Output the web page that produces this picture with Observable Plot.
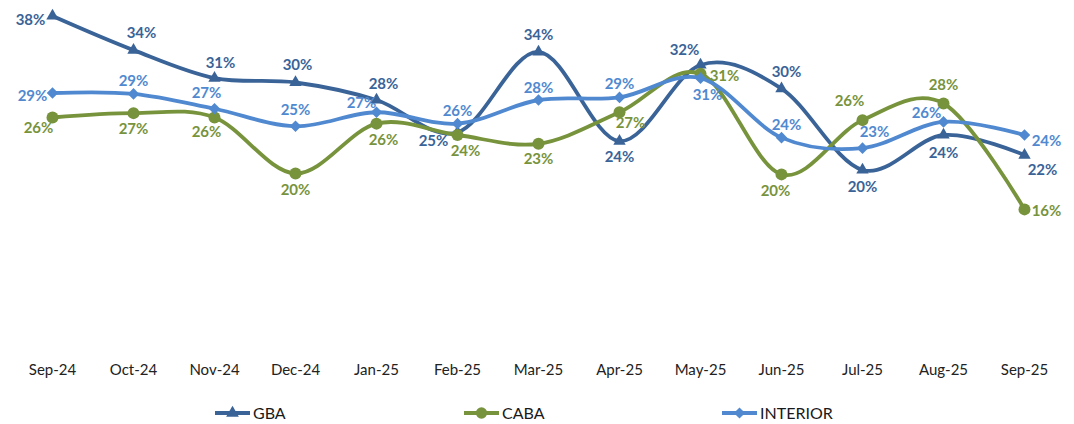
<!DOCTYPE html>
<html><head><meta charset="utf-8">
<script src="https://cdn.jsdelivr.net/npm/d3@7"></script>
<script src="https://cdn.jsdelivr.net/npm/@observablehq/plot@0.6"></script>
<style>
body{margin:0;background:#fff;font-family:Lato,"Open Sans",sans-serif;}
#wrap{position:relative;width:1074px;height:424px;}
#legend{position:absolute;left:0;top:399px;width:1074px;height:26px;}
.li{position:absolute;top:0;display:flex;align-items:center;font-size:16px;color:#1a1a1a;}
.li svg{display:block;margin-right:2px;}
</style></head>
<body><div id="wrap"><div id="chart"></div><div id="legend"></div></div>
<script>
const months = ["Sep-24","Oct-24","Nov-24","Dec-24","Jan-25","Feb-25","Mar-25","Apr-25","May-25","Jun-25","Jul-25","Aug-25","Sep-25"];
const gba      = [38.0,34.1,30.9,30.4,28.4,24.7,33.9,23.7,32.4,29.7,20.4,24.4,22.1];
const caba     = [26.4,26.9,26.4,20.0,25.7,24.4,23.4,27.0,31.4,19.9,26.1,28.0,15.9];
const interior = [29.2,29.1,27.4,25.4,27.0,25.7,28.4,28.7,30.9,24.1,22.9,25.9,24.4];
const seriesNames = ["GBA","CABA","INTERIOR"];

// label placement offsets (dx, dy) in pixels, per point
const gbaLabelOffsets = [[-22,4],[8,-17],[6,-15],[2,-17],[7,-16],[-24,9],[0,-17],[0,16],[-16,-15],[5,-16],[0,17],[0,18],[18,15]];
const cabaLabelOffsets = [[-14,11],[0,16],[-8,15],[0,17],[7,17],[8,16],[0,15],[11,11],[24,2],[-6,17],[-13,-19],[0,-18],[22,2]];
const interiorLabelOffsets = [[-20,3],[0,-13],[-8,-16],[0,-16],[-15,-9],[0,-12],[0,-12],[0,-13],[7,17],[5,-12],[12,-16],[-17,-9],[22,6]];

const colors = {GBA:"#3A6398", CABA:"#77933C", INTERIOR:"#5089D0"};
const symbols = {GBA:"triangle", CABA:"circle", INTERIOR:"diamond2"};
const radii = {GBA:4.6, CABA:6, INTERIOR:5.2};

const seriesVals = {GBA:gba, CABA:caba, INTERIOR:interior};
const seriesOffsets = {GBA:gbaLabelOffsets, CABA:cabaLabelOffsets, INTERIOR:interiorLabelOffsets};

const rows = [];
for (const s of seriesNames) {
  seriesVals[s].forEach((v,i)=>rows.push({series:s, month:months[i], value:v, off:seriesOffsets[s][i]}));
}

const marks = [];
for (const s of seriesNames) {
  const d = rows.filter(r=>r.series===s);
  marks.push(Plot.line(d,{x:"month",y:"value",stroke:colors[s],strokeWidth:3.8,curve:"cardinal",tension:0}));
  marks.push(Plot.dot(d,{x:"month",y:"value",fill:colors[s],symbol:()=>symbols[s],r:radii[s],stroke:"none"}));
}
for (const r of rows) {
  marks.push(Plot.text([r],{x:"month",y:"value",text:d=>Math.round(d.value)+"%",fill:colors[r.series],dx:r.off[0],dy:r.off[1],fontSize:15,fontWeight:"bold"}));
}

const chart = Plot.plot({
  width:1074, height:392,
  marginLeft:47, marginRight:46, marginTop:0, marginBottom:44,
  style:{fontFamily:"Lato, 'Open Sans', sans-serif", background:"#fff", overflow:"visible"},
  x:{type:"point", domain:months, padding:0, label:null, axis:null},
  y:{domain:[0,40], range:[348,-2], axis:null},
  symbol:{type:"identity"},
  marks:[
    ...marks,
    Plot.axisX({tickSize:0, tickPadding:16, fontSize:15, fill:"#222", label:null})
  ]
});
document.getElementById("chart").appendChild(chart);

// legend
const legendPos = {GBA:214, CABA:463, INTERIOR:721};
const lg = document.getElementById("legend");
for (const s of seriesNames) {
  const div = document.createElement("div");
  div.className="li";
  div.style.left = legendPos[s]+"px";
  const sym = d3.symbol().type(s==="GBA"?d3.symbolTriangle:s==="CABA"?d3.symbolCircle:d3.symbolDiamond2).size(s==="GBA"?70:s==="CABA"?100:80)();
  div.innerHTML = `<svg width="37" height="26"><line x1="1" x2="36" y1="14" y2="14" stroke="${colors[s]}" stroke-width="3.8"/><path d="${sym}" transform="translate(18.5,14)" fill="${colors[s]}"/></svg><span>${s}</span>`;
  lg.appendChild(div);
}
</script></body></html>
